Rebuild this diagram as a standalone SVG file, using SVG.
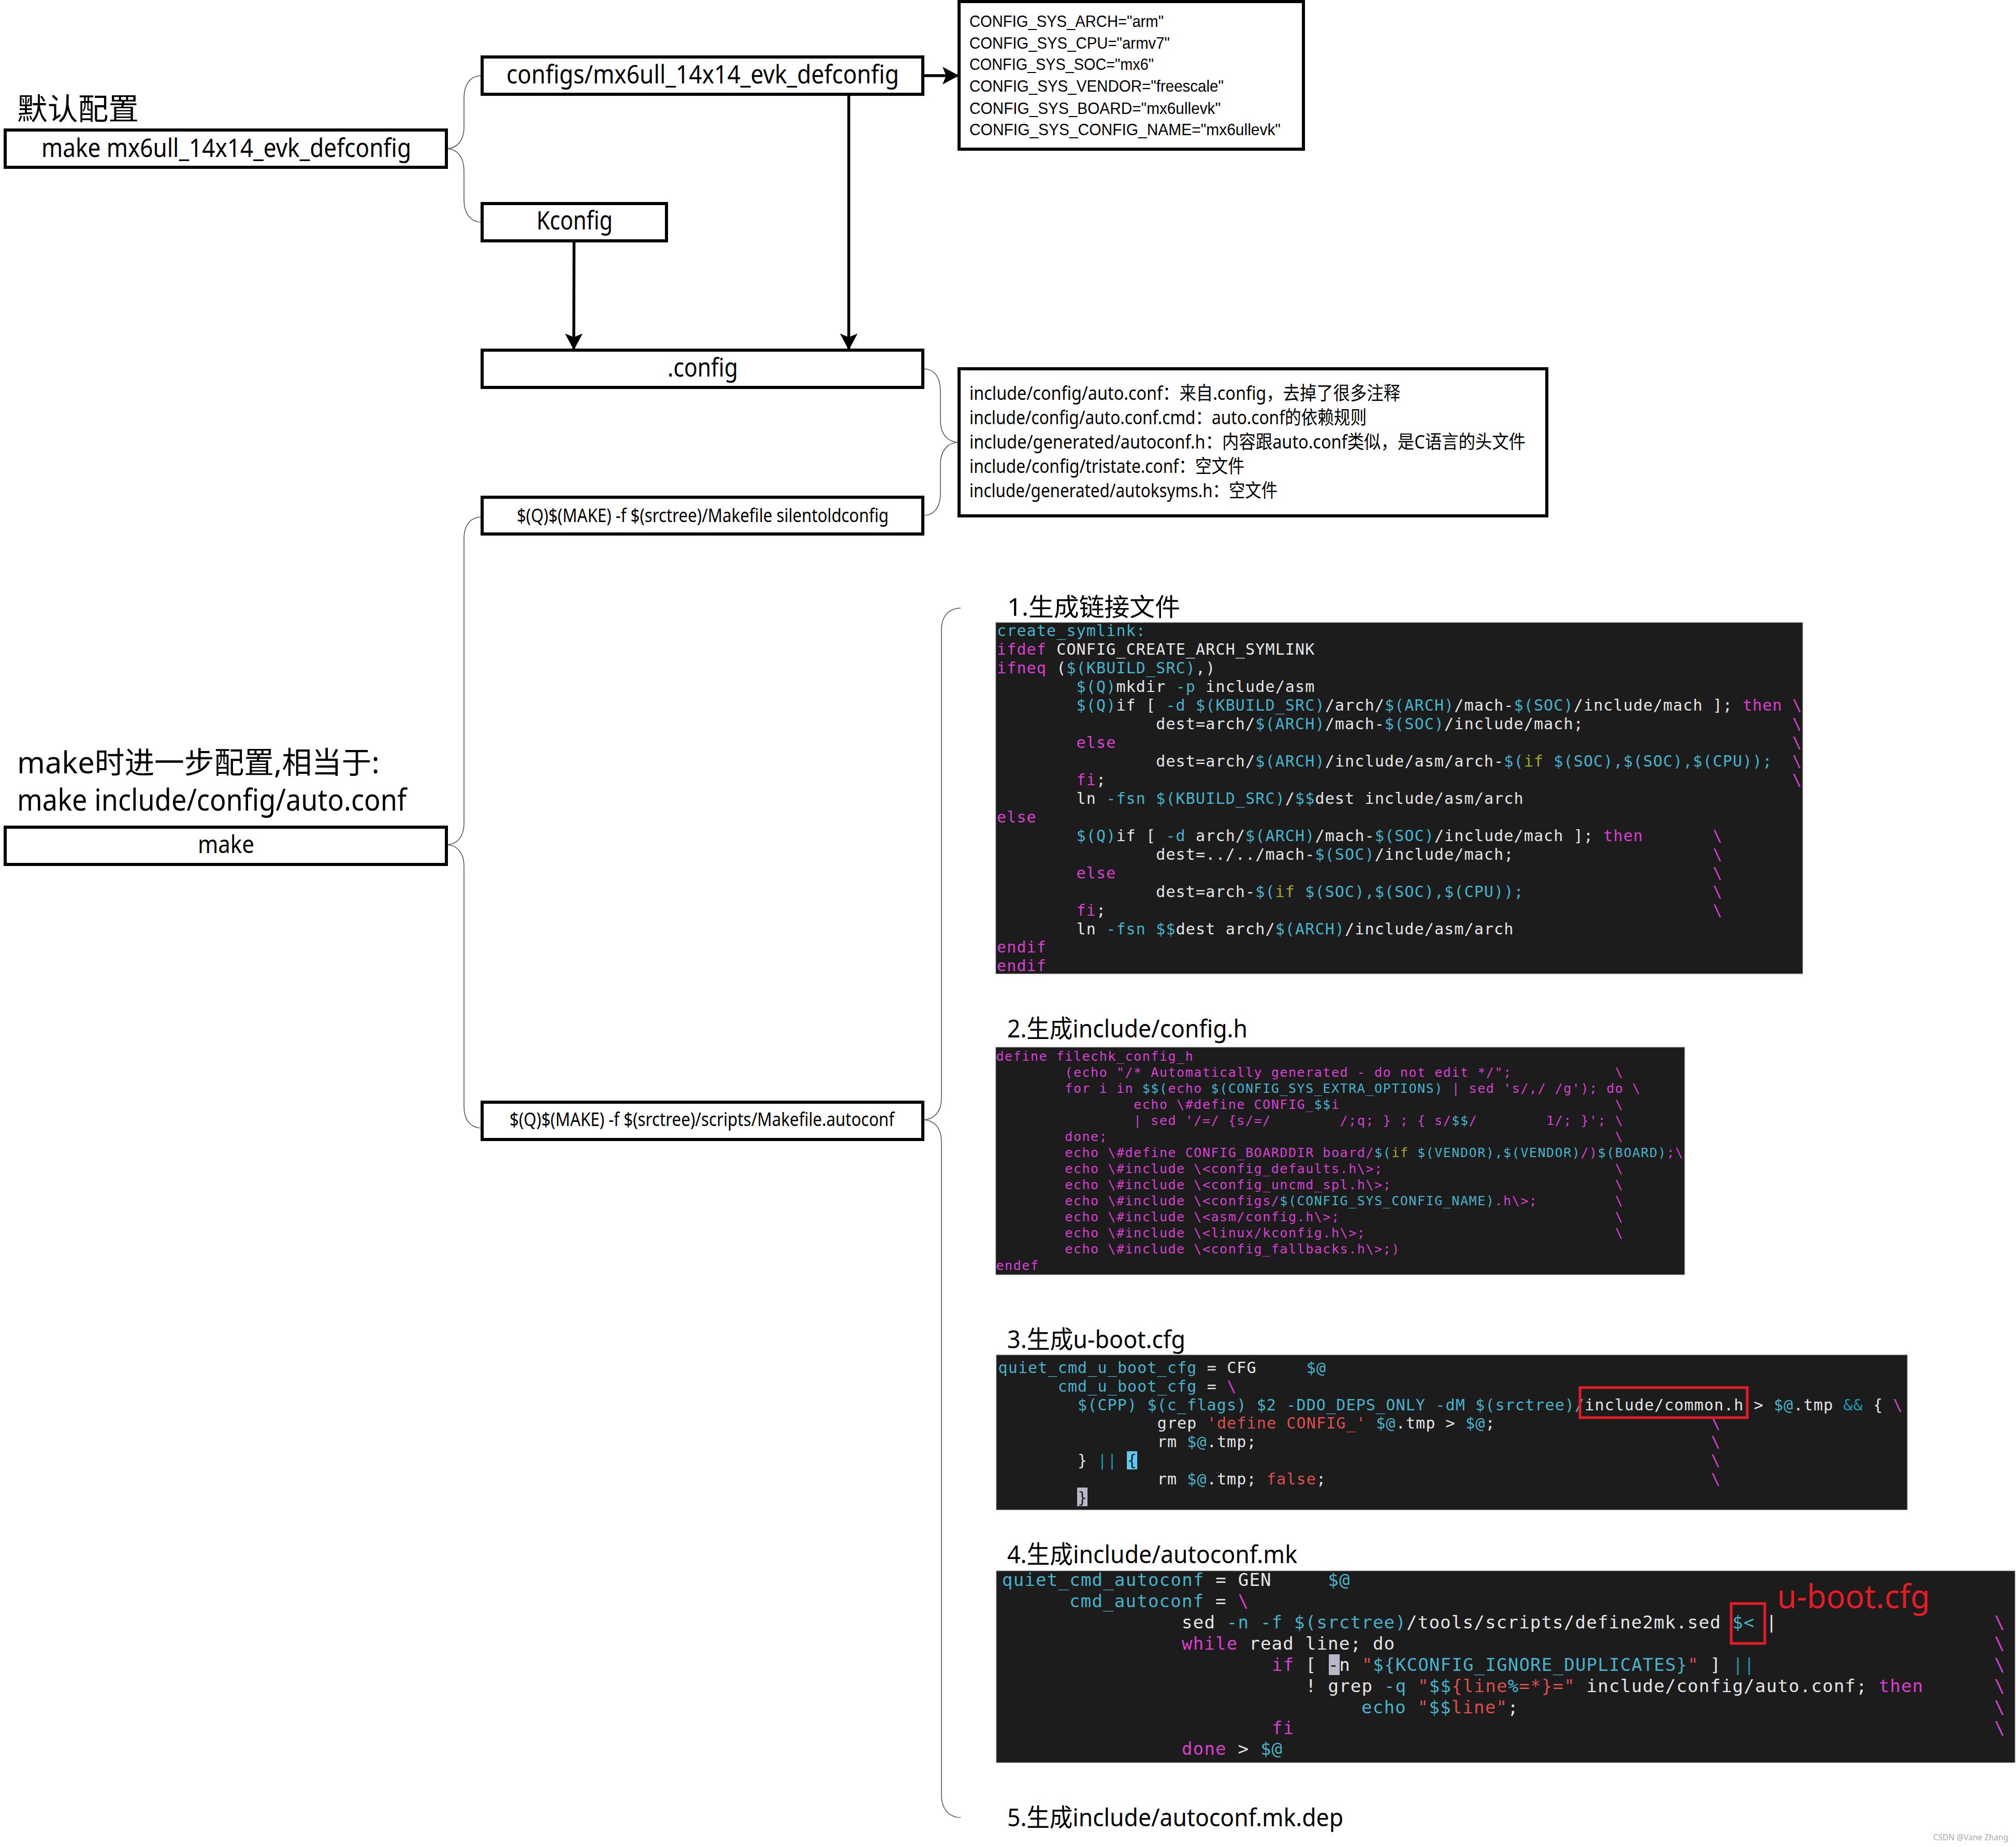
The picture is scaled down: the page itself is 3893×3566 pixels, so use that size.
<svg xmlns="http://www.w3.org/2000/svg" width="3893" height="3566" viewBox="0 0 3893 3566">
<style>
.box{fill:#fff;stroke:#000;stroke-width:6}
.t{font-family:"Noto Sans","Noto Sans CJK SC",sans-serif;fill:#000}
.v{font-family:"Liberation Sans",sans-serif;font-size:32px;fill:#000}
.f50{font-size:50px}.f60{font-size:58px}.f36{font-size:36px}.f48{font-size:48px}
.brace{fill:none;stroke:#555;stroke-width:1.6}
.arrow{fill:none;stroke:#000;stroke-width:5.5}
.panel{fill:#1c1c1c;stroke:#777;stroke-width:1}
.code{font-family:"DejaVu Sans Mono",monospace;fill:#e6e6e6;white-space:pre}
.p1{font-size:30px;letter-spacing:1.14px}
.p2{font-size:25px;letter-spacing:1.55px;fill:#dc3fd2}
.p4{font-size:34px;letter-spacing:1.23px}
.c{fill:#45b4cc}.m{fill:#dc3fd2}.y{fill:#a7a81e}.r{fill:#dd4f4f}.g{fill:#1f97ad}.k{fill:#1c1c1c}.w{fill:#e6e6e6}
.red{fill:none;stroke:#e81c24;stroke-width:5}
</style>
<defs>
<marker id="head" markerUnits="userSpaceOnUse" markerWidth="34" markerHeight="36" refX="32" refY="18" orient="auto"><path d="M0,1 L32,18 L0,35 L7,18 Z" fill="#000"/></marker>
</defs>
<rect width="3893" height="3566" fill="#fff"/>

<g id="connectors">
<path class="brace" d="M931,146 C908,146 896,162 896,190 L896,245 C896,272 882,287 862,287 C882,287 896,302 896,330 L896,385 C896,412 908,429 931,429"/>
<path class="brace" d="M1783,712 C1804,712 1816,728 1816,755 L1816,812 C1816,838 1830,854 1852,854 C1830,854 1816,870 1816,897 L1816,952 C1816,980 1804,995 1783,995"/>
<path class="brace" d="M931,998 C908,998 896,1014 896,1040 L896,1590 C896,1616 882,1631 862,1631 C882,1631 896,1646 896,1672 L896,2136 C896,2162 908,2178 931,2178"/>
<path class="brace" d="M1855,1174 C1832,1174 1818,1190 1818,1216 L1818,2120 C1818,2146 1804,2162 1782,2162 C1804,2162 1818,2178 1818,2204 L1818,3466 C1818,3492 1832,3509 1855,3509"/>
<path class="arrow" marker-end="url(#head)" d="M1108.500,465 L1108,676"/>
<path class="arrow" marker-end="url(#head)" d="M1639,182 L1639,676"/>
<path class="arrow" marker-end="url(#head)" d="M1783,146 L1852,146"/>
</g>

<g id="label-default"><text class="t f60" x="33" y="231" textLength="235" lengthAdjust="spacingAndGlyphs">默认配置</text></g>
<g id="node-make-defconfig"><rect class="box" x="10" y="251" width="852" height="72"/><text class="t f50" x="80" y="303" textLength="714" lengthAdjust="spacingAndGlyphs">make mx6ull_14x14_evk_defconfig</text></g>
<g id="node-configs"><rect class="box" x="931" y="110" width="851" height="72"/><text class="t f50" x="978" y="161" textLength="758" lengthAdjust="spacingAndGlyphs">configs/mx6ull_14x14_evk_defconfig</text></g>
<g id="node-kconfig"><rect class="box" x="931" y="393" width="356" height="72"/><text class="t f50" x="1036" y="443" textLength="147" lengthAdjust="spacingAndGlyphs">Kconfig</text></g>
<g id="node-config"><rect class="box" x="931" y="676" width="851" height="72"/><text class="t f50" x="1289" y="727" textLength="136" lengthAdjust="spacingAndGlyphs">.config</text></g>
<g id="node-silentoldconfig"><rect class="box" x="931" y="960" width="851" height="71"/><text class="t f36" x="998" y="1008" textLength="718" lengthAdjust="spacingAndGlyphs">$(Q)$(MAKE) -f $(srctree)/Makefile silentoldconfig</text></g>
<g id="node-autoconf"><rect class="box" x="931" y="2128" width="851" height="72"/><text class="t f36" x="984" y="2174" textLength="743" lengthAdjust="spacingAndGlyphs">$(Q)$(MAKE) -f $(srctree)/scripts/Makefile.autoconf</text></g>
<g id="label-make"><text class="t f60" x="33" y="1493" textLength="700" lengthAdjust="spacingAndGlyphs">make时进一步配置,相当于:</text><text class="t f60" x="33" y="1565" textLength="752" lengthAdjust="spacingAndGlyphs">make include/config/auto.conf</text></g>
<g id="node-make"><rect class="box" x="10" y="1597" width="852" height="72"/><text class="t f48" x="382" y="1647" textLength="109" lengthAdjust="spacingAndGlyphs">make</text></g>

<g id="node-config-vars"><rect class="box" x="1852" y="3" width="665" height="285"/>
<text class="v" x="1872" y="52" textLength="375" lengthAdjust="spacingAndGlyphs">CONFIG_SYS_ARCH="arm"</text>
<text class="v" x="1872" y="94" textLength="387" lengthAdjust="spacingAndGlyphs">CONFIG_SYS_CPU="armv7"</text>
<text class="v" x="1872" y="135" textLength="356" lengthAdjust="spacingAndGlyphs">CONFIG_SYS_SOC="mx6"</text>
<text class="v" x="1872" y="177" textLength="491" lengthAdjust="spacingAndGlyphs">CONFIG_SYS_VENDOR="freescale"</text>
<text class="v" x="1872" y="220" textLength="485" lengthAdjust="spacingAndGlyphs">CONFIG_SYS_BOARD="mx6ullevk"</text>
<text class="v" x="1872" y="261" textLength="601" lengthAdjust="spacingAndGlyphs">CONFIG_SYS_CONFIG_NAME="mx6ullevk"</text></g>

<g id="node-generated-files"><rect class="box" x="1852" y="712" width="1135" height="284"/>
<text class="t f36" x="1872" y="772" textLength="832" lengthAdjust="spacingAndGlyphs">include/config/auto.conf：来自.config，去掉了很多注释</text>
<text class="t f36" x="1872" y="819" textLength="767" lengthAdjust="spacingAndGlyphs">include/config/auto.conf.cmd：auto.conf的依赖规则</text>
<text class="t f36" x="1872" y="866" textLength="1074" lengthAdjust="spacingAndGlyphs">include/generated/autoconf.h：内容跟auto.conf类似，是C语言的头文件</text>
<text class="t f36" x="1872" y="913" textLength="531" lengthAdjust="spacingAndGlyphs">include/config/tristate.conf：空文件</text>
<text class="t f36" x="1872" y="960" textLength="595" lengthAdjust="spacingAndGlyphs">include/generated/autoksyms.h：空文件</text></g>

<g id="step-1">
<text class="t f48" x="1945" y="1189" textLength="334" lengthAdjust="spacingAndGlyphs">1.生成链接文件</text>
<rect class="panel" x="1923" y="1202" width="1558" height="678"/>
<g class="code p1">
<text x="1925" y="1228" class="c">create_symlink:</text>
<text x="1925" y="1264"><tspan class="m">ifdef</tspan> CONFIG_CREATE_ARCH_SYMLINK</text>
<text x="1925" y="1300"><tspan class="m">ifneq</tspan> (<tspan class="c">$(KBUILD_SRC)</tspan>,)</text>
<text x="2078.6" y="1336"><tspan class="c">$(Q)</tspan>mkdir <tspan class="c">-p</tspan> include/asm</text>
<text x="2078.6" y="1372"><tspan class="c">$(Q)</tspan>if [ <tspan class="c">-d</tspan> <tspan class="c">$(KBUILD_SRC)</tspan>/arch/<tspan class="c">$(ARCH)</tspan>/mach-<tspan class="c">$(SOC)</tspan>/include/mach ]; <tspan class="m">then</tspan> <tspan class="m">\</tspan></text>
<text x="2232.2" y="1408">dest=arch/<tspan class="c">$(ARCH)</tspan>/mach-<tspan class="c">$(SOC)</tspan>/include/mach;<tspan class="m" x="3461">\</tspan></text>
<text x="2078.6" y="1444" class="m">else<tspan x="3461">\</tspan></text>
<text x="2232.2" y="1480">dest=arch/<tspan class="c">$(ARCH)</tspan>/include/asm/arch-<tspan class="c">$(</tspan><tspan class="y">if</tspan> <tspan class="c">$(SOC),$(SOC),$(CPU));</tspan><tspan class="m" x="3461">\</tspan></text>
<text x="2078.6" y="1516"><tspan class="m">fi</tspan>;<tspan class="m" x="3461">\</tspan></text>
<text x="2078.6" y="1552">ln <tspan class="c">-fsn</tspan> <tspan class="c">$(KBUILD_SRC)</tspan>/<tspan class="c">$$</tspan>dest include/asm/arch</text>
<text x="1925" y="1588" class="m">else</text>
<text x="2078.6" y="1624"><tspan class="c">$(Q)</tspan>if [ <tspan class="c">-d</tspan> arch/<tspan class="c">$(ARCH)</tspan>/mach-<tspan class="c">$(SOC)</tspan>/include/mach ]; <tspan class="m">then</tspan><tspan class="m" x="3307.400">\</tspan></text>
<text x="2232.2" y="1660">dest=../../mach-<tspan class="c">$(SOC)</tspan>/include/mach;<tspan class="m" x="3307.400">\</tspan></text>
<text x="2078.6" y="1696" class="m">else<tspan x="3307.400">\</tspan></text>
<text x="2232.2" y="1732">dest=arch-<tspan class="c">$(</tspan><tspan class="y">if</tspan> <tspan class="c">$(SOC),$(SOC),$(CPU));</tspan><tspan class="m" x="3307.400">\</tspan></text>
<text x="2078.6" y="1768"><tspan class="m">fi</tspan>;<tspan class="m" x="3307.400">\</tspan></text>
<text x="2078.6" y="1804">ln <tspan class="c">-fsn</tspan> <tspan class="c">$$</tspan>dest arch/<tspan class="c">$(ARCH)</tspan>/include/asm/arch</text>
<text x="1925" y="1839" class="m">endif</text>
<text x="1925" y="1875" class="m">endif</text>
</g></g>

<g id="step-2">
<text class="t f48" x="1945" y="2003" textLength="464" lengthAdjust="spacingAndGlyphs">2.生成include/config.h</text>
<rect class="panel" x="1923" y="2022" width="1330" height="439"/>
<g class="code p2">
<text x="1923.5" y="2048" class="m">define filechk_config_h</text>
<text x="2056.3" y="2079" class="m">(echo "/* Automatically generated - do not edit */";<tspan x="3118.700">\</tspan></text>
<text x="2056.3" y="2110" class="m">for i in <tspan class="c">$$(</tspan>echo <tspan class="c">$(CONFIG_SYS_EXTRA_OPTIONS)</tspan> | sed 's/,/ /g'); do \</text>
<text x="2189.1" y="2141" class="m">echo \#define CONFIG_<tspan class="c">$$</tspan>i<tspan x="3118.700">\</tspan></text>
<text x="2189.1" y="2172" class="m">| sed '/=/ {s/=/<tspan x="2587.500">/;q; } ; { s/<tspan class="c">$$</tspan>/</tspan><tspan x="2986">1/; }'; \</tspan></text>
<text x="2056.3" y="2203" class="m">done;<tspan x="3118.700">\</tspan></text>
<text x="2056.3" y="2234" class="m">echo \#define CONFIG_BOARDDIR board/<tspan class="c">$(</tspan><tspan class="y">if</tspan> <tspan class="c">$(VENDOR),$(VENDOR)</tspan>/)<tspan class="c">$(BOARD)</tspan>;\</text>
<text x="2056.3" y="2265" class="m">echo \#include \&lt;config_defaults.h\&gt;;<tspan x="3118.700">\</tspan></text>
<text x="2056.3" y="2296" class="m">echo \#include \&lt;config_uncmd_spl.h\&gt;;<tspan x="3118.700">\</tspan></text>
<text x="2056.3" y="2327" class="m">echo \#include \&lt;configs/<tspan class="c">$(CONFIG_SYS_CONFIG_NAME)</tspan>.h\&gt;;<tspan x="3118.700">\</tspan></text>
<text x="2056.3" y="2358" class="m">echo \#include \&lt;asm/config.h\&gt;;<tspan x="3118.700">\</tspan></text>
<text x="2056.3" y="2389" class="m">echo \#include \&lt;linux/kconfig.h\&gt;;<tspan x="3118.700">\</tspan></text>
<text x="2056.3" y="2420" class="m">echo \#include \&lt;config_fallbacks.h\&gt;;)</text>
<text x="1923.5" y="2452" class="m">endef</text>
</g></g>

<g id="step-3">
<text class="t f48" x="1945" y="2603" textLength="344" lengthAdjust="spacingAndGlyphs">3.生成u-boot.cfg</text>
<rect class="panel" x="1924" y="2616" width="1759" height="299"/>
<rect x="2176" y="2802" width="20" height="35" fill="#5fc8ee"/>
<rect x="2080" y="2872" width="20" height="36" fill="#b8b8c8"/>
<g class="code p1">
<text x="1927.5" y="2651"><tspan class="c">quiet_cmd_u_boot_cfg</tspan> = CFG<tspan class="c" x="2522.700">$@</tspan></text>
<text x="2042.7" y="2687"><tspan class="c">cmd_u_boot_cfg</tspan> = <tspan class="m">\</tspan></text>
<text x="2081" y="2723"><tspan class="c">$(CPP) $(c_flags) $2 -DDO_DEPS_ONLY -dM $(srctree)/</tspan>include/common.h &gt; <tspan class="c">$@</tspan>.tmp <tspan class="g">&amp;&amp;</tspan> { <tspan class="m">\</tspan></text>
<text x="2234.7" y="2758">grep <tspan class="r">'define CONFIG_'</tspan> <tspan class="c">$@</tspan>.tmp &gt; <tspan class="c">$@</tspan>;<tspan class="m" x="3304">\</tspan></text>
<text x="2234.7" y="2794">rm <tspan class="c">$@</tspan>.tmp;<tspan class="m" x="3304">\</tspan></text>
<text x="2081" y="2830">} <tspan class="g">||</tspan> <tspan class="k">{</tspan><tspan class="m" x="3304">\</tspan></text>
<text x="2234.7" y="2866">rm <tspan class="c">$@</tspan>.tmp; <tspan class="r">false</tspan>;<tspan class="m" x="3304">\</tspan></text>
<text x="2081" y="2902" class="k">}</text>
</g>
<rect class="red" x="3051" y="2679" width="323" height="58"/>
</g>

<g id="step-4">
<text class="t f48" x="1945" y="3018" textLength="560" lengthAdjust="spacingAndGlyphs">4.生成include/autoconf.mk</text>
<rect class="panel" x="1924" y="3033" width="1967" height="370"/>
<rect x="2566" y="3194" width="21" height="40" fill="#b8b8c8"/>
<g class="code p4">
<text x="1935" y="3062"><tspan class="c">quiet_cmd_autoconf</tspan> = GEN<tspan class="c" x="2564.300">$@</tspan></text>
<text x="2065" y="3103"><tspan class="c">cmd_autoconf</tspan> = <tspan class="m">\</tspan></text>
<text x="2282" y="3144">sed <tspan class="c">-n -f $(srctree)</tspan>/tools/scripts/define2mk.sed <tspan class="c">$&lt;</tspan> |<tspan class="m" x="3851">\</tspan></text>
<text x="2282" y="3185"><tspan class="m">while</tspan> read line; do<tspan class="m" x="3851">\</tspan></text>
<text x="2456" y="3226"><tspan class="m">if</tspan> [ <tspan class="k">-</tspan><tspan class="w">n</tspan> <tspan class="r">"</tspan><tspan class="c">${KCONFIG_IGNORE_DUPLICATES}</tspan><tspan class="r">"</tspan> ] <tspan class="g">||</tspan><tspan class="m" x="3851">\</tspan></text>
<text x="2521" y="3267">! grep <tspan class="c">-q</tspan> <tspan class="r">"</tspan><tspan class="c">$$</tspan><tspan class="r">{line</tspan><tspan class="c">%</tspan><tspan class="r">=*}="</tspan> include/config/auto.conf; <tspan class="m">then</tspan><tspan class="m" x="3851">\</tspan></text>
<text x="2629" y="3308"><tspan class="c">echo</tspan> <tspan class="r">"</tspan><tspan class="c">$$</tspan><tspan class="r">line"</tspan>;<tspan class="m" x="3851">\</tspan></text>
<text x="2456" y="3348" class="m">fi<tspan x="3851">\</tspan></text>
<text x="2282" y="3388"><tspan class="m">done</tspan> &gt; <tspan class="c">$@</tspan></text>
</g>
<rect class="red" x="3343" y="3096" width="65" height="77"/>
<text class="t" x="3432" y="3105" font-size="64" style="fill:#e81c24" textLength="295" lengthAdjust="spacingAndGlyphs">u-boot.cfg</text>
</g>

<g id="step-5"><text class="t f48" x="1945" y="3526" textLength="649" lengthAdjust="spacingAndGlyphs">5.生成include/autoconf.mk.dep</text></g>
<text class="t" x="3733" y="3553" font-size="17" style="fill:#aaa" textLength="145" lengthAdjust="spacingAndGlyphs">CSDN @Vane Zhang</text>
</svg>
